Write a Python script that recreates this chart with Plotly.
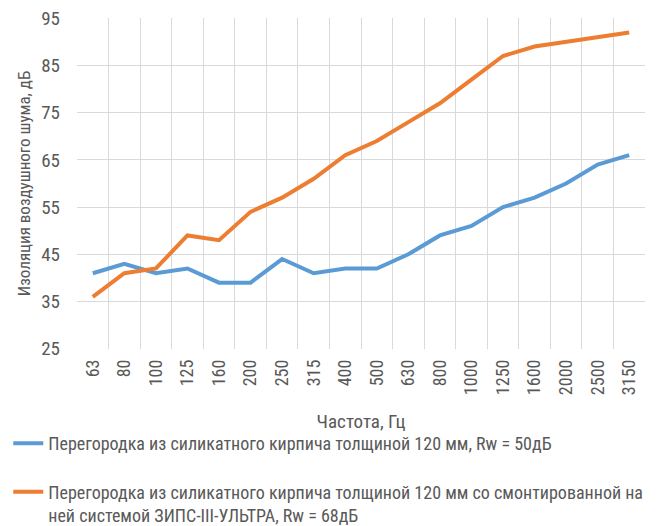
import plotly.graph_objects as go

freqs = ["63", "80", "100", "125", "160", "200", "250", "315", "400", "500",
         "630", "800", "1000", "1250", "1600", "2000", "2500", "3150"]
brick = [41, 43, 41, 42, 39, 39, 44, 41, 42, 42, 45, 49, 51, 55, 57, 60, 64, 66]
brick_zips = [36, 41, 42, 49, 48, 54, 57, 61, 66, 69, 73, 77, 82, 87, 89, 90, 91, 92]
y_ticks = [25, 35, 45, 55, 65, 75, 85, 95]

name1 = "Перегородка из силикатного кирпича толщиной 120 мм, Rw = 50дБ"
name2 = ("Перегородка из силикатного кирпича толщиной 120 мм со смонтированной на<br>"
         "ней системой ЗИПС-III-УЛЬТРА, Rw = 68дБ")

FONT = "Roboto Condensed, Liberation Sans Narrow, Roboto, sans-serif"
TXT = "#595959"
GRID = "#d9d9d9"

fig = go.Figure()
fig.add_trace(go.Scatter(x=freqs, y=brick, mode="lines", name=name1,
                         legendgroup="a",
                         line=dict(color="#5b9bd5", width=4)))
fig.add_trace(go.Scatter(x=freqs, y=brick_zips, mode="lines", name=name2,
                         legendgroup="b",
                         line=dict(color="#ed7d31", width=4)))

fig.update_layout(
    width=659, height=518,
    margin=dict(l=69, r=22, t=10, b=177, autoexpand=False),
    paper_bgcolor="white", plot_bgcolor="white",
    font=dict(family=FONT, size=17, color=TXT),
    legend=dict(orientation="v", xref="paper", yref="paper",
                x=-0.121, xanchor="left", y=-0.230, yanchor="top",
                traceorder="grouped", tracegroupgap=22, valign="top",
                font=dict(size=18, color=TXT), itemwidth=30),
    xaxis=dict(type="category", tickson="boundaries", showgrid=True,
               range=[-0.5, len(freqs) - 0.5],
               gridcolor=GRID, gridwidth=1, tickangle=-90,
               showline=False, ticks="", zeroline=False,
               ticklabelstandoff=6,
               title=dict(text="Частота, Гц", font=dict(size=19, color=TXT),
                          standoff=20),
               tickfont=dict(size=18, color=TXT)),
    yaxis=dict(range=[24.95, 95.05], tickmode="array", tickvals=y_ticks,
               showgrid=True, ticklabeloverflow="allow",
               gridcolor=GRID, gridwidth=1, zeroline=False, ticks="",
               showline=False, ticklabelstandoff=16,
               title=dict(text="Изоляция воздушного шума, дБ",
                          font=dict(size=17, color=TXT), standoff=6),
               tickfont=dict(size=19, color=TXT)),
)

fig.write_html("out.html")
